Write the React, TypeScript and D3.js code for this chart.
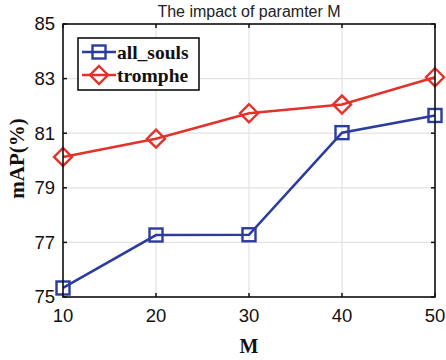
import React from 'react';
import * as d3 from 'd3';

const mValues = [10, 20, 30, 40, 50];
const allSouls = [75.33, 77.27, 77.28, 81.02, 81.65];
const tromphe = [80.13, 80.8, 81.73, 82.05, 83.05];
const yTicks = [75, 77, 79, 81, 83, 85];

export default function App() {
  const width = 446;
  const height = 360;
  const margin = { top: 24, right: 11, bottom: 63, left: 63 };
  const innerW = width - margin.left - margin.right;
  const innerH = height - margin.top - margin.bottom;

  const x = d3.scaleLinear().domain([10, 50]).range([0, innerW]);
  const y = d3.scaleLinear().domain([75, 85]).range([innerH, 0]);

  const line = d3.line<number>()
    .x((_, i) => x(mValues[i]))
    .y(d => y(d));

  const blue = '#2b3c9c';
  const red = '#e2322b';
  const tickFont = 'Liberation Sans, Arial, sans-serif';
  const serif = 'Liberation Serif, Times New Roman, serif';

  const diamond = (cx: number, cy: number, r: number) =>
    `M${cx},${cy - r}L${cx + r},${cy}L${cx},${cy + r}L${cx - r},${cy}Z`;

  return (
    <svg width={width} height={height} style={{ position: 'absolute', left: 0, top: 0, background: '#fff' }}>
      <text x={margin.left + innerW / 2} y={17} textAnchor="middle" fontFamily={tickFont} fontSize={16} fill="#222">
        The impact of paramter M
      </text>
      <g transform={`translate(${margin.left},${margin.top})`}>
        {/* grid */}
        {mValues.map(v => (
          <line key={`gx${v}`} x1={x(v)} x2={x(v)} y1={0} y2={innerH} stroke="#e3e3e3" strokeWidth={1.2} />
        ))}
        {yTicks.map(v => (
          <line key={`gy${v}`} x1={0} x2={innerW} y1={y(v)} y2={y(v)} stroke="#e3e3e3" strokeWidth={1.2} />
        ))}

        {/* ticks inward */}
        {mValues.map(v => (
          <g key={`tx${v}`}>
            <line x1={x(v)} x2={x(v)} y1={innerH} y2={innerH - 4} stroke="#111" strokeWidth={1.5} />
            <line x1={x(v)} x2={x(v)} y1={0} y2={4} stroke="#111" strokeWidth={1.5} />
            <text x={x(v)} y={innerH + 25} textAnchor="middle" fontFamily={tickFont} fontSize={18.5} fill="#111">{v}</text>
          </g>
        ))}
        {yTicks.map(v => (
          <g key={`ty${v}`}>
            <line x1={0} x2={4} y1={y(v)} y2={y(v)} stroke="#111" strokeWidth={1.5} />
            <line x1={innerW} x2={innerW - 4} y1={y(v)} y2={y(v)} stroke="#111" strokeWidth={1.5} />
            <text x={-8} y={y(v)} dy="0.35em" textAnchor="end" fontFamily={tickFont} fontSize={18.5} fill="#111">{v}</text>
          </g>
        ))}

        {/* series */}
        <path d={line(tromphe) || ''} fill="none" stroke={red} strokeWidth={2.6} />
        <path d={line(allSouls) || ''} fill="none" stroke={blue} strokeWidth={2.6} />
        {tromphe.map((v, i) => (
          <path key={`tm${i}`} d={diamond(x(mValues[i]), y(v), 9)} fill="none" stroke={red} strokeWidth={2.4} />
        ))}
        {allSouls.map((v, i) => (
          <rect key={`am${i}`} x={x(mValues[i]) - 6.5} y={y(v) - 6.5} width={13} height={13} fill="none" stroke={blue} strokeWidth={2.4} />
        ))}

        {/* axes box */}
        <rect x={0} y={0} width={innerW} height={innerH} fill="none" stroke="#111" strokeWidth={1.6} />

        {/* legend */}
        <g transform="translate(15,14)">
          <rect x={0} y={0} width={121} height={52} fill="#fff" stroke="#111" strokeWidth={1.6} />
          <line x1={4} x2={38} y1={14} y2={14} stroke={blue} strokeWidth={2.6} />
          <rect x={14.5} y={7.5} width={13} height={13} fill="none" stroke={blue} strokeWidth={2.4} />
          <text x={39} y={14} dy="0.35em" fontFamily={serif} fontWeight="bold" fontSize={19.5} fill="#111">all_souls</text>
          <line x1={4} x2={38} y1={37} y2={37} stroke={red} strokeWidth={2.6} />
          <path d={diamond(21, 37, 9)} fill="none" stroke={red} strokeWidth={2.4} />
          <text x={39} y={37} dy="0.35em" fontFamily={serif} fontWeight="bold" fontSize={19.5} fill="#111">tromphe</text>
        </g>
      </g>

      <text x={margin.left + innerW / 2} y={353} textAnchor="middle" fontFamily={serif} fontWeight="bold" fontSize={20} fill="#111">M</text>
      <text transform={`translate(24,${margin.top + innerH / 2 - 2}) rotate(-90)`} textAnchor="middle" fontFamily={serif} fontWeight="bold" fontSize={21} fill="#111">mAP(%)</text>
    </svg>
  );
}
